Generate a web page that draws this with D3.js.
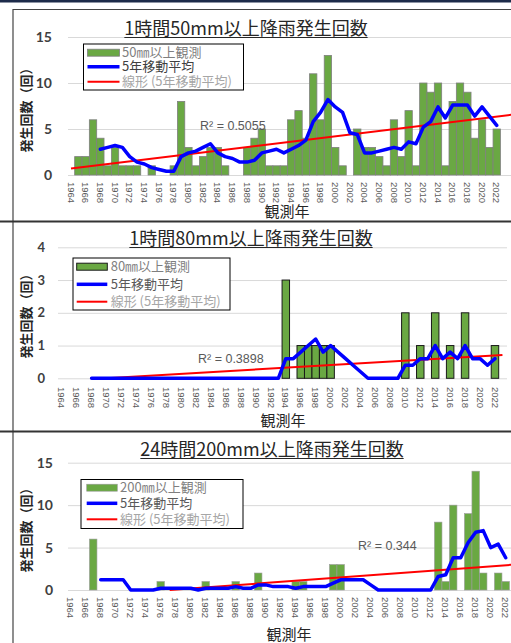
<!DOCTYPE html>
<html><head><meta charset="utf-8">
<script src="https://cdn.jsdelivr.net/npm/d3@7"></script>
<style>
html,body{margin:0;padding:0;background:#fff;}
svg{display:block;font-family:"Noto Sans CJK JP","Noto Sans",sans-serif;}
</style></head>
<body><svg id="c" width="511" height="643"></svg>
<script>
// ---------- data ----------
const years = [1964,1965,1966,1967,1968,1969,1970,1971,1972,1973,
1974,1975,1976,1977,1978,1979,1980,1981,1982,1983,
1984,1985,1986,1987,1988,1989,1990,1991,1992,1993,
1994,1995,1996,1997,1998,1999,2000,2001,2002,2003,
2004,2005,2006,2007,2008,2009,2010,2011,2012,2013,
2014,2015,2016,2017,2018,2019,2020,2021,2022];
const axisYears = years.concat([2023, 2024]);
const xTickLabels = [1964,1966,1968,1970,1972,1974,1976,1978,1980,1982,1984,1986,1988,1990,
1992,1994,1996,1998,2000,2002,2004,2006,2008,2010,2012,2014,2016,2018,2020,2022];

const counts50 = [0,2,2,6,4,1,3,1,1,1,
0,1,0,0,1,8,3,1,2,3,
3,1,0,0,3,4,5,1,1,1,
6,7,4,11,6,13,3,1,0,5,
3,3,2,1,6,2,7,1,10,9,
10,1,8,10,9,4,6,3,5];
const ma50 = [null,null,null,null,2.8,3.0,3.2,3.0,2.0,1.4,
1.2,0.8,0.6,0.4,0.4,2.0,2.4,2.6,3.0,3.4,
2.4,2.0,1.8,1.4,1.4,1.6,2.4,2.6,2.8,2.4,
2.8,3.2,3.8,5.8,6.8,8.2,7.4,6.8,4.6,4.4,
2.4,2.4,2.6,2.8,3.0,2.8,3.6,3.4,5.2,5.8,
7.4,6.2,7.6,7.6,7.6,6.4,7.4,6.4,5.4];
const trend50Years = [1964, 2024];
const trend50Values = [0.7, 6.55];
const r2Text50 = "R² = 0.5055";
const yTicks50 = [0,5,10,15];

const counts80 = [0,0,0,0,0,0,0,0,0,0,
0,0,0,0,0,0,0,0,0,0,
0,0,0,0,0,0,0,0,0,0,
3,0,1,1,1,1,1,0,0,0,
0,0,0,0,0,0,2,0,1,0,
2,0,1,0,2,0,0,0,1];
const ma80 = [null,null,null,null,0,0,0,0,0,0,
0,0,0,0,0,0,0,0,0,0,
0,0,0,0,0,0,0,0,0,0,
0.6,0.6,0.8,1.0,1.2,0.8,1.0,0.8,0.6,0.4,
0.2,0,0,0,0,0,0.4,0.4,0.6,0.6,
1.0,0.6,0.8,0.6,1.0,0.6,0.6,0.4,0.6];
const trend80Years = [1970, 2023];
const trend80Values = [0.0, 0.715];
const r2Text80 = "R² = 0.3898";
const yTicks80 = [0,1,2,3,4];

const counts200 = [0,0,0,6,0,0,0,0,0,0,
0,0,1,0,0,0,0,0,1,0,
0,0,1,0,0,2,0,0,0,0,
1,1,0,0,0,3,3,0,0,0,
0,0,0,0,0,0,0,0,0,8,
1,10,0,9,14,2,0,2,1];
const ma200 = [null,null,null,null,1.2,1.2,1.2,1.2,0,0,
0,0,0.2,0.2,0.2,0.2,0.2,0,0.2,0.2,
0.2,0.2,0.4,0.2,0.2,0.6,0.6,0.4,0.4,0.4,
0.2,0.4,0.4,0.4,0.4,0.8,1.2,1.2,1.2,1.2,
0.6,0,0,0,0,0,0,0,0,1.6,
1.8,3.8,3.8,5.6,6.8,7.0,5.0,5.4,3.8];
const trend200Years = [1977.2, 2024];
const trend200Values = [0.0, 3.05];
const r2Text200 = "R² = 0.344";
const yTicks200 = [0,5,10,15];

const titles = ["1時間50mm以上降雨発生回数","1時間80mm以上降雨発生回数","24時間200mm以上降雨発生回数"];
const legend50 = ["50㎜以上観測","5年移動平均","線形 (5年移動平均)"];
const legend80 = ["80㎜以上観測","5年移動平均","線形 (5年移動平均)"];
const legend200 = ["200㎜以上観測","5年移動平均","線形 (5年移動平均)"];
const yAxisTitle = "発生回数（回）";
const xAxisTitle = "観測年";

// ---------- layout ----------
const svg = d3.select("#c");
const GREEN = "#6aa843";

// frames
svg.append("rect").attr("x",0).attr("y",0).attr("width",511).attr("height",2.5).attr("fill","#1d2b4a");
svg.append("line").attr("x1",13).attr("x2",511).attr("y1",9.5).attr("y2",9.5).attr("stroke","#444").attr("stroke-width",1);
svg.append("line").attr("x1",13).attr("x2",13).attr("y1",9).attr("y2",643).attr("stroke","#444").attr("stroke-width",1.2);
svg.append("line").attr("x1",0).attr("x2",511).attr("y1",221.5).attr("y2",221.5).attr("stroke","#333").attr("stroke-width",2);
svg.append("line").attr("x1",0).attr("x2",511).attr("y1",431.5).attr("y2",431.5).attr("stroke","#333").attr("stroke-width",2);

const charts = [
 {counts:counts50, ma:ma50, tY:trend50Years, tV:trend50Values, r2:r2Text50, yTicks:yTicks50, legend:legend50, title:titles[0],
  bandLeft:67.33, step:7.34, y0:175, yTop:37, gridLeft:68, gridRight:511, tickRight:52, tickFont:14, xLabTop:182,
  titleX:246, titleY:35, yTitleY:107, xTitleX:287, xTitleY:217,
  lg:{x:83.5,y:44,w:160,h:46,sw0:87.5,sw1:119.5,tx:122,rows:[52.7,66.7,81.7]}, r2x:200, r2y:130,
  barStroke:"#7f7f7f", barSW:0.8, legendColors:["#7f7f7f","#404040","#a6a6a6"]},
 {counts:counts80, ma:ma80, tY:trend80Years, tV:trend80Values, r2:r2Text80, yTicks:yTicks80, legend:legend80, title:titles[1],
  bandLeft:57.97, step:7.47, y0:378.3, yTop:247.3, gridLeft:58, gridRight:507, tickRight:45, tickFont:13, xLabTop:387,
  titleX:251, titleY:245, yTitleY:313, xTitleX:283, xTitleY:426,
  lg:{x:73,y:258,w:157,h:52,sw0:76.7,sw1:107.3,tx:110.7,rows:[266.7,284.3,301.7]}, r2x:198, r2y:363,
  barStroke:"#1a1a1a", barSW:1, legendColors:["#7f7f7f","#595959","#a6a6a6"]},
 {counts:counts200, ma:ma200, tY:trend200Years, tV:trend200Values, r2:r2Text200, yTicks:yTicks200, legend:legend200, title:titles[2],
  bandLeft:66.95, step:7.5, y0:590, yTop:462.7, gridLeft:68, gridRight:511, tickRight:53, tickFont:14, xLabTop:597,
  titleX:272, titleY:456, yTitleY:527, xTitleX:289, xTitleY:639.5,
  lg:{x:81,y:479.5,w:162,h:49,sw0:86.7,sw1:117.3,tx:120,rows:[487.7,503.3,519.3]}, r2x:358, r2y:550,
  barStroke:"#9a9a9a", barSW:0.6, legendColors:["#7f7f7f","#595959","#a6a6a6"]}
];

charts.forEach((c, ci) => {
  const g = svg.append("g");
  const n = axisYears.length;
  const x = d3.scaleBand().domain(axisYears).range([c.bandLeft, c.bandLeft + n * c.step]).padding(0);
  const bw = x.bandwidth();
  const yMax = c.yTicks[c.yTicks.length - 1];
  const y = d3.scaleLinear().domain([0, yMax]).range([c.y0, c.yTop]);
  const xc = d3.scaleLinear().domain([1964, 2024]).range([x(1964) + bw/2, x(2024) + bw/2]);

  // y axis + gridlines
  const ya = g.append("g").attr("transform", `translate(${c.gridLeft},0)`)
    .call(d3.axisLeft(y).tickValues(c.yTicks).tickSizeInner(-(c.gridRight - c.gridLeft)).tickSizeOuter(0)
      .tickPadding(c.gridLeft - c.tickRight).tickFormat(d3.format("d")));
  ya.select(".domain").remove();
  ya.selectAll("line").attr("stroke", "#d9d9d9").attr("stroke-width", 1);
  ya.selectAll("text").attr("fill", "#404040").style("font-size", c.tickFont + "px")
    .style("font-family", "Lato, 'Noto Sans', sans-serif").style("font-weight", "bold");

  // x axis labels
  const xa = g.append("g").attr("transform", `translate(0,${c.y0})`)
    .call(d3.axisBottom(x).tickValues(xTickLabels).tickSize(0));
  xa.select(".domain").remove();
  xa.selectAll("text").attr("transform", "rotate(90)").attr("x", c.xLabTop - c.y0).attr("y", 0)
    .attr("dy", "0.35em").style("text-anchor", "start").attr("fill", "#595959")
    .style("font-size", "9.5px").style("font-family", "'Liberation Sans', sans-serif");

  // bars
  g.append("g").selectAll("rect").data(years.map((yr, i) => ({yr, v: c.counts[i]})).filter(d => d.v > 0))
    .join("rect")
    .attr("x", d => x(d.yr)).attr("width", bw)
    .attr("y", d => y(d.v)).attr("height", d => y(0) - y(d.v))
    .attr("fill", GREEN).attr("stroke", c.barStroke).attr("stroke-width", c.barSW);

  // trend line
  g.append("path").datum(c.tY.map((yr, i) => [yr, c.tV[i]]))
    .attr("d", d3.line().x(d => xc(d[0])).y(d => y(d[1])))
    .attr("fill", "none").attr("stroke", "#ff0000").attr("stroke-width", 2);

  // moving average
  g.append("path").datum(years.map((yr, i) => ({yr, v: c.ma[i]})))
    .attr("d", d3.line().defined(d => d.v != null).x(d => x(d.yr) + bw/2).y(d => y(d.v)))
    .attr("fill", "none").attr("stroke", "#0000ff").attr("stroke-width", 3.5)
    .attr("stroke-linejoin", "round").attr("stroke-linecap", "round");

  // R2
  g.append("text").attr("x", c.r2x).attr("y", c.r2y).text(c.r2)
    .attr("fill", "#595959").style("font-size", "12.5px").style("font-family", "'Liberation Sans', sans-serif");

  // legend
  const L = c.lg;
  const lg = g.append("g");
  lg.append("rect").attr("x", L.x).attr("y", L.y).attr("width", L.w).attr("height", L.h)
    .attr("fill", "#fff").attr("stroke", "#000").attr("stroke-width", 1);
  lg.append("rect").attr("x", L.sw0).attr("y", L.rows[0] - 3.5).attr("width", L.sw1 - L.sw0).attr("height", 7)
    .attr("fill", GREEN).attr("stroke", c.barStroke).attr("stroke-width", c.barSW);
  lg.append("line").attr("x1", L.sw0).attr("x2", L.sw1).attr("y1", L.rows[1]).attr("y2", L.rows[1])
    .attr("stroke", "#0000ff").attr("stroke-width", 3.5);
  lg.append("line").attr("x1", L.sw0).attr("x2", L.sw1).attr("y1", L.rows[2]).attr("y2", L.rows[2])
    .attr("stroke", "#ff0000").attr("stroke-width", 2);
  c.legend.forEach((t, i) => {
    lg.append("text").attr("x", L.tx).attr("y", L.rows[i]).attr("dy", "0.36em").text(t)
      .attr("fill", c.legendColors[i]).style("font-size", "13px");
  });

  // title
  const tt = g.append("text").attr("x", c.titleX).attr("y", c.titleY).attr("text-anchor", "middle")
    .text(c.title).attr("fill", "#262626").style("font-size", "18px");
  const bb = tt.node().getBBox();
  g.append("line").attr("x1", bb.x).attr("x2", bb.x + bb.width).attr("y1", c.titleY + 2.5).attr("y2", c.titleY + 2.5)
    .attr("stroke", "#262626").attr("stroke-width", 1.2);

  // axis titles
  g.append("text").attr("transform", `translate(26,${c.yTitleY}) rotate(-90)`).attr("text-anchor", "middle")
    .attr("dy", "0.36em").text(yAxisTitle).attr("fill", "#262626").style("font-size", "13px").style("font-weight", "bold");
  g.append("text").attr("x", c.xTitleX).attr("y", c.xTitleY).attr("text-anchor", "middle")
    .text(xAxisTitle).attr("fill", "#262626").style("font-size", "15px");
});
</script></body></html>
